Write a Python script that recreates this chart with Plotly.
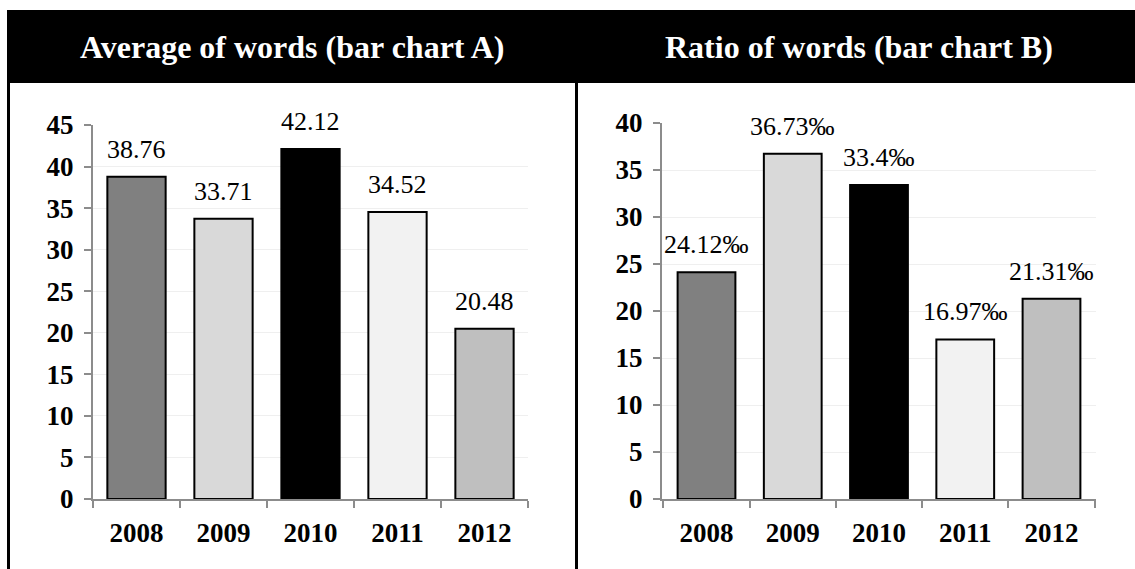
import plotly.graph_objects as go

# Data
years = ["2008", "2009", "2010", "2011", "2012"]
avg_words = [38.76, 33.71, 42.12, 34.52, 20.48]
ratio_words = [24.12, 36.73, 33.4, 16.97, 21.31]
bar_colors = ["#808080", "#d9d9d9", "#000000", "#f2f2f2", "#bfbfbf"]
title_a = "Average of words (bar chart A)"
title_b = "Ratio of words (bar chart B)"

W, H = 1135, 569
FONT = "Liberation Serif, Times New Roman, serif"


def px(x):
    return x / W


def py(y):
    return 1 - y / H


fig = go.Figure()

fig.add_trace(go.Bar(
    x=years, y=avg_words, xaxis="x", yaxis="y",
    marker=dict(color=bar_colors, line=dict(color="black", width=2)),
    width=0.67, showlegend=False, hoverinfo="x+y",
))
fig.add_trace(go.Bar(
    x=years, y=ratio_words, xaxis="x2", yaxis="y2",
    marker=dict(color=bar_colors, line=dict(color="black", width=2)),
    width=0.67, showlegend=False, hoverinfo="x+y",
))

axis_common = dict(
    automargin=False,
    showline=True, linecolor="#8c8c8c", linewidth=2,
    ticks="outside", tickcolor="#8c8c8c", ticklen=7, tickwidth=2,
    tickfont=dict(family=FONT, size=27, color="black", weight="bold"),
    fixedrange=True,
)

xaxis_common = dict(axis_common, type="category", tickson="boundaries",
                    showgrid=False, tickangle=0, ticklabelstandoff=9)
yaxis_common = dict(axis_common, showgrid=True, gridcolor="#efefef",
                    gridwidth=1, dtick=5, zeroline=False, ticklabelstandoff=5)

fig.update_layout(
    template="none",
    width=W, height=H,
    margin=dict(l=0, r=0, t=0, b=0, autoexpand=False),
    paper_bgcolor="white", plot_bgcolor="white",
    bargap=0.33,
    xaxis=dict(xaxis_common, domain=[px(93), px(528)], anchor="y"),
    yaxis=dict(yaxis_common, domain=[py(499), py(125)], range=[0, 45],
               anchor="x"),
    xaxis2=dict(xaxis_common, domain=[px(662), px(1096)], anchor="y2"),
    yaxis2=dict(yaxis_common, domain=[py(499), py(123)], range=[0, 40],
                anchor="x2"),
)

# Value labels above each bar (category axes take the category index)
annotations = []
for i, v in enumerate(avg_words):
    annotations.append(dict(
        x=i, y=v, xref="x", yref="y", text=f"{v}", showarrow=False,
        yanchor="bottom", yshift=11,
        font=dict(family=FONT, size=26, color="black"),
    ))
for i, v in enumerate(ratio_words):
    annotations.append(dict(
        x=i, y=v, xref="x2", yref="y2", text=f"{v}‰", showarrow=False,
        yanchor="bottom", yshift=11,
        font=dict(family=FONT, size=26, color="black"),
    ))

# Header titles
annotations.append(dict(
    x=px(292), y=py(46.5), xref="paper", yref="paper", text=title_a,
    showarrow=False, xanchor="center", yanchor="middle",
    font=dict(family=FONT, size=32, color="white", weight="bold"),
))
annotations.append(dict(
    x=px(859), y=py(46.5), xref="paper", yref="paper", text=title_b,
    showarrow=False, xanchor="center", yanchor="middle",
    font=dict(family=FONT, size=32, color="white", weight="bold"),
))
fig.update_layout(annotations=annotations)

# Table-like frame: black header band and vertical rules
fig.update_layout(shapes=[
    dict(type="rect", xref="paper", yref="paper",
         x0=px(7), x1=1, y0=py(83), y1=py(10),
         fillcolor="black", line=dict(width=0), layer="below"),
    dict(type="line", xref="paper", yref="paper",
         x0=px(8.5), x1=px(8.5), y0=py(83), y1=0,
         line=dict(color="black", width=3)),
    dict(type="line", xref="paper", yref="paper",
         x0=px(576.5), x1=px(576.5), y0=py(83), y1=0,
         line=dict(color="black", width=3)),
])

fig.write_html("out.html")
